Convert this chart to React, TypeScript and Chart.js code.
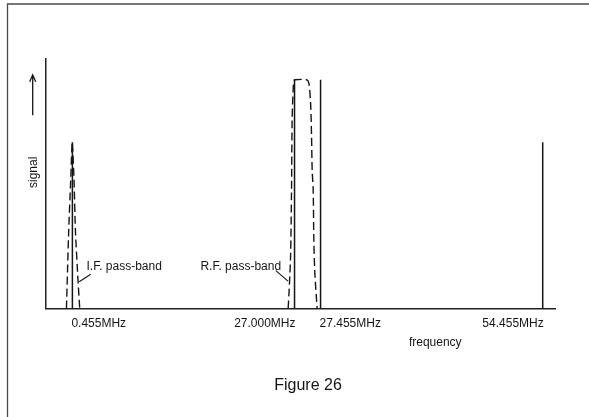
import React, { useEffect, useRef } from 'react';
import { Chart, registerables } from 'chart.js';

Chart.register(...registerables);

// Frequencies of the signal lines (schematic, not drawn to scale)
const frequencies = [0.455, 27.0, 27.455, 54.455];
const tickLabels = ['0.455MHz', '27.000MHz', '27.455MHz', '54.455MHz'];
// schematic position of each frequency on the 0–100 horizontal axis
const schematicPos = [5.18, 48.78, 53.89, 97.49];
const signalLevels = [0.8, 1.1, 1.1, 0.8];
const tickAlign: CanvasTextAlign[] = ['left', 'right', 'left', 'right'];

// I.F. pass-band response (dashed)
const ifBandX = [4.01, 4.46, 4.85, 5.15, 5.5, 5.77, 6.28, 6.62];
const ifBandY = [0, 0.377, 0.618, 0.8, 0.618, 0.377, 0.136, 0];

// R.F. pass-band response (dashed)
const rfBandX = [47.53, 47.72, 48.0, 48.19, 48.31, 48.51, 48.65, 48.84, 51.14, 51.59, 51.93, 52.12, 52.24, 52.44, 52.57, 52.77, 53.22];
const rfBandY = [0, 0.088, 0.249, 0.57, 0.907, 1.052, 1.095, 1.1, 1.1, 1.084, 0.989, 0.827, 0.667, 0.57, 0.329, 0.17, 0];

const xAxisTitle = 'frequency';
const yAxisTitle = 'signal';
const figureCaption = 'Figure 26';
const passBandLabels = ['I.F. pass-band', 'R.F. pass-band'];

const FONT = '"Liberation Sans", Arial, sans-serif';
const INK = '#151515';

const overlayPlugin = {
  id: 'overlay',
  afterDraw(chart: any) {
    const ctx: CanvasRenderingContext2D = chart.ctx;
    const xs = chart.scales.x;
    const ys = chart.scales.y;
    const area = chart.chartArea;
    ctx.save();

    // frame
    ctx.strokeStyle = '#4a4a4a';
    ctx.lineWidth = 1.3;
    ctx.beginPath();
    ctx.moveTo(7.5, chart.height);
    ctx.lineTo(7.5, 4);
    ctx.lineTo(chart.width, 4);
    ctx.stroke();

    ctx.fillStyle = INK;
    ctx.strokeStyle = INK;
    ctx.font = `12px ${FONT}`;
    ctx.textBaseline = 'middle';

    // tick labels
    tickLabels.forEach((t, i) => {
      const px = xs.getPixelForValue(schematicPos[i]);
      ctx.textAlign = tickAlign[i];
      ctx.fillText(t, tickAlign[i] === 'left' ? px - 1 : px + 1, area.bottom + 15);
    });

    // x title
    ctx.textAlign = 'center';
    ctx.fillText(xAxisTitle, xs.getPixelForValue(76.4), area.bottom + 34);

    // y title (rotated)
    ctx.save();
    ctx.translate(34, ys.getPixelForValue(0.655));
    ctx.rotate(-Math.PI / 2);
    ctx.textAlign = 'center';
    ctx.fillText(yAxisTitle, 0, 0);
    ctx.restore();

    // arrow
    const ax = 32.7;
    const aTop = ys.getPixelForValue(1.124);
    const aBot = ys.getPixelForValue(0.93);
    ctx.lineWidth = 1.3;
    ctx.beginPath();
    ctx.moveTo(ax, aBot);
    ctx.lineTo(ax, aTop);
    ctx.moveTo(ax - 3, aTop + 7);
    ctx.lineTo(ax, aTop);
    ctx.lineTo(ax + 3, aTop + 7);
    ctx.stroke();

    // pass-band labels with leaders
    ctx.textAlign = 'left';
    ctx.fillText(passBandLabels[0], xs.getPixelForValue(7.95), ys.getPixelForValue(0.199));
    ctx.textAlign = 'right';
    ctx.fillText(passBandLabels[1], xs.getPixelForValue(46.15), ys.getPixelForValue(0.199));
    ctx.lineWidth = 1.1;
    ctx.beginPath();
    ctx.moveTo(xs.getPixelForValue(6.52), ys.getPixelForValue(0.129));
    ctx.lineTo(xs.getPixelForValue(8.78), ys.getPixelForValue(0.165));
    ctx.moveTo(xs.getPixelForValue(47.5), ys.getPixelForValue(0.132));
    ctx.lineTo(xs.getPixelForValue(45.11), ys.getPixelForValue(0.182));
    ctx.stroke();

    // caption
    ctx.font = `16px ${FONT}`;
    ctx.textAlign = 'center';
    ctx.fillText(figureCaption, 308, 386);

    ctx.restore();
  },
};

export default function App() {
  const ref = useRef<HTMLCanvasElement | null>(null);

  useEffect(() => {
    if (!ref.current) return;
    const signalSets = frequencies.map((f, i) => ({
      label: `${f} MHz`,
      data: [
        { x: schematicPos[i], y: 0 },
        { x: schematicPos[i], y: signalLevels[i] },
      ],
      borderColor: INK,
      borderWidth: 1.5,
      pointRadius: 0,
      tension: 0,
    }));
    const chart = new Chart(ref.current, {
      type: 'line',
      data: {
        datasets: [
          ...signalSets,
          {
            label: 'I.F. pass-band',
            data: ifBandX.map((x, i) => ({ x, y: ifBandY[i] })),
            borderColor: INK,
            borderWidth: 1.4,
            borderDash: [8, 4],
            pointRadius: 0,
            tension: 0.2,
          },
          {
            label: 'R.F. pass-band',
            data: rfBandX.map((x, i) => ({ x, y: rfBandY[i] })),
            borderColor: INK,
            borderWidth: 1.4,
            borderDash: [8, 4],
            pointRadius: 0,
            tension: 0.3,
          },
        ],
      },
      options: {
        animation: false,
        responsive: false,
        devicePixelRatio: 1,
        layout: {
          autoPadding: false,
          padding: { left: 46, right: 33.5, top: 59, bottom: 108.5 },
        },
        plugins: {
          legend: { display: false },
          tooltip: { enabled: false },
          title: { display: false },
        },
        scales: {
          x: {
            type: 'linear',
            min: 0,
            max: 100,
            grid: { display: false, drawTicks: false },
            ticks: { display: false },
            border: { display: true, color: '#222', width: 1.5 },
            afterFit: (s: any) => { s.height = 0; },
          },
          y: {
            type: 'linear',
            min: 0,
            max: 1.2,
            grid: { display: false, drawTicks: false },
            ticks: { display: false },
            border: { display: true, color: '#222', width: 1.5 },
            afterFit: (s: any) => { s.width = 0; },
          },
        },
      },
      plugins: [overlayPlugin],
    } as any);
    return () => chart.destroy();
  }, []);

  return (
    <div style={{ position: 'fixed', left: 0, top: 0, width: 589, height: 417, background: '#fff' }}>
      <canvas ref={ref} width={589} height={417} style={{ display: 'block' }} />
    </div>
  );
}
